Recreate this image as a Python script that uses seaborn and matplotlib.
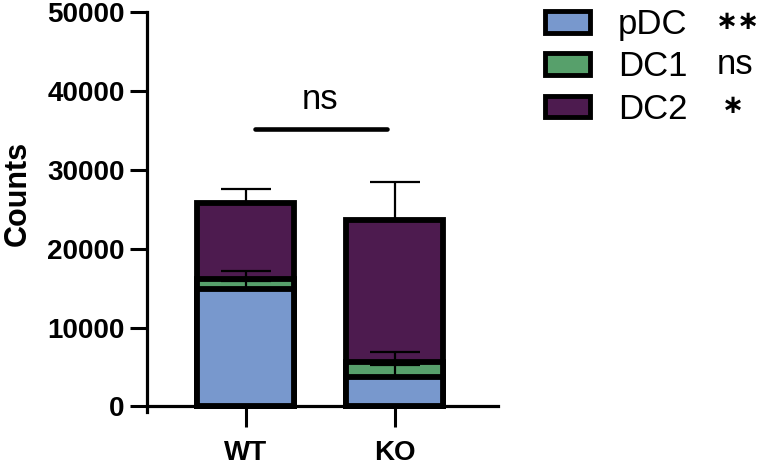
import numpy as np
import pandas as pd
import matplotlib.pyplot as plt
import matplotlib as mpl
import seaborn as sns
from matplotlib.patches import Patch

sns.set_style('ticks')
plt.rcParams['font.family'] = ['Liberation Sans', 'DejaVu Sans']
for k in ['text.color', 'axes.labelcolor', 'xtick.color', 'ytick.color', 'axes.edgecolor']:
    plt.rcParams[k] = 'black'

# values
groups = ['WT', 'KO']
pdc = [14900, 3700]
dc1 = [1200, 1950]
dc2 = [9700, 18000]
pdc_err = [1000, 1500]
dc1_err = [1100, 1200]
dc2_err = [1800, 4800]
cell_types = ['pDC', 'DC1', 'DC2']
stars = ['\u2217\u2217', 'ns', '\u2217']
colors = ['#7898cd', '#57a06b', '#4d1b4f']

pdc = np.array(pdc)
lvl1 = pdc + np.array(dc1)
lvl2 = lvl1 + np.array(dc2)
df = pd.DataFrame({'group': groups, 'pDC': pdc, 'DC1': lvl1, 'DC2': lvl2})

fig = plt.figure(figsize=(7.61, 4.65), dpi=100)
ax = fig.add_axes([0.193, 0.114, 0.461, 0.86])

# stacked look: draw the cumulative totals from the top layer down
for col, c in zip(['DC2', 'DC1', 'pDC'], colors[::-1]):
    sns.barplot(data=df, x='group', y=col, ax=ax, color=c, saturation=1,
                edgecolor='black', linewidth=4.2, width=0.65, errorbar=None)

xs = np.arange(len(groups))
for tops, err in [(pdc, pdc_err), (lvl1, dc1_err), (lvl2, dc2_err)]:
    ax.errorbar(xs, tops, yerr=[np.zeros(len(err)), err], fmt='none',
                ecolor='black', elinewidth=1.6, capsize=18, capthick=1.6, zorder=5)

# significance bar
ax.plot([0.06, 0.946], [35200, 35200], color='black', lw=3.3, solid_capstyle='round')
ax.text(0.5, 36800, 'ns', ha='center', va='bottom', fontsize=25)

ax.set_xlim(-0.664, 1.69)
ax.set_ylim(-700, 50000)
ax.set_yticks([0, 10000, 20000, 30000, 40000, 50000])
ax.spines['bottom'].set_position(('data', 0))
ax.spines['right'].set_visible(False)
ax.spines['top'].set_visible(False)
for s in ['left', 'bottom']:
    ax.spines[s].set_linewidth(2.3)
ax.tick_params(axis='y', length=12, width=2.2, labelsize=20, pad=4)
ax.tick_params(axis='x', length=15, width=2.2, labelsize=20, pad=9)
for lab in ax.get_xticklabels() + ax.get_yticklabels():
    lab.set_fontweight('bold')
ax.set_xlabel('')
ax.set_ylabel('Counts', fontsize=22, fontweight='bold')
ax.yaxis.set_label_coords(-0.325, 0.547)

handles = [Patch(facecolor=c, edgecolor='black', linewidth=3.5, label=l)
           for c, l in zip(colors, cell_types)]
leg = fig.legend(handles=handles, loc='upper left', bbox_to_anchor=(0.675, 1.05),
                 frameon=False, fontsize=25, handlelength=1.3, handleheight=0.58,
                 handletextpad=0.8, labelspacing=0.27)

# significance marks next to each legend row
fig.canvas.draw()
inv = fig.transFigure.inverted()
for h, s in zip(leg.legend_handles, stars):
    bb = h.get_window_extent()
    yc = inv.transform((0, (bb.y0 + bb.y1) / 2))[1]
    if s == 'ns':
        fig.text(717 / 761, yc, s, ha='left', va='center', fontsize=25)
    else:
        fig.text((716 if len(s) == 2 else 722) / 761, yc, s, ha='left', va='center',
                 fontsize=19, fontweight='bold')

plt.savefig('out.png', dpi=100)
